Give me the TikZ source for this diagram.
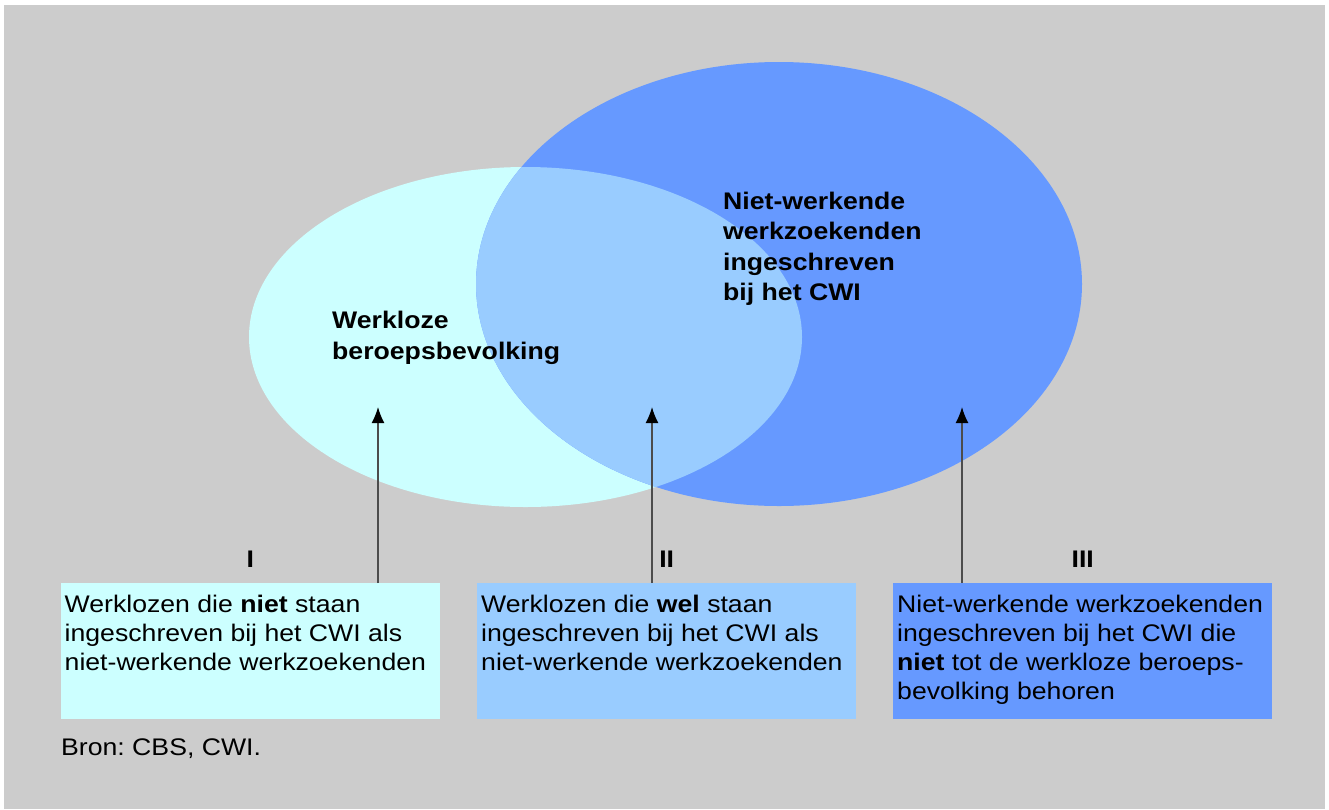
\documentclass[tikz,border=0pt]{standalone}
\usepackage{fontspec}
\setmainfont{Liberation Sans}[FakeStretch=1.11]
\usetikzlibrary{positioning,arrows.meta}
\definecolor{bggray}{HTML}{CCCCCC}
\definecolor{cyanfill}{HTML}{CCFFFF}
\definecolor{lightfill}{HTML}{99CCFF}
\definecolor{bluefill}{HTML}{6699FF}
\frenchspacing

\begin{document}
\begin{tikzpicture}[x=1pt,y=-1pt,
  box/.style={anchor=north west, inner sep=0pt, minimum width=379pt, minimum height=136pt},
  boxtext/.style={anchor=north west, inner sep=0pt, align=left, font=\fontsize{24}{29}\selectfont},
  settext/.style={anchor=north west, inner sep=0pt, align=left, font=\fontsize{24}{30.5}\selectfont\bfseries},
  numlabel/.style={inner sep=0pt, font=\fontsize{24}{29}\selectfont\bfseries},
  pointer/.style={-{Latex[length=16pt,width=13pt,black]}, line width=1.5pt, black!70}]
\useasboundingbox (0,0) rectangle (1329,809);
\fill[white] (0,0) rectangle (1329,809);
\fill[bggray] (4,5) rectangle (1325,809);

% the two sets and their overlap
\fill[cyanfill] (525.5,337) ellipse [x radius=276.5pt, y radius=170pt];
\fill[bluefill] (779,284) ellipse [x radius=303pt, y radius=222pt];
\begin{scope}
\clip (525.5,337) ellipse [x radius=276.5pt, y radius=170pt];
\fill[lightfill] (779,284) ellipse [x radius=303pt, y radius=222pt];
\end{scope}

\node[settext] (wbb) at (332,311) {Werkloze\\ beroepsbevolking};
\node[settext] (nww) at (723,191.5) {Niet-werkende\\ werkzoekenden\\ ingeschreven\\ bij het CWI};

% the three boxes
\foreach \i/\x/\c in {1/60.5/cyanfill, 2/477/lightfill, 3/893/bluefill} {
    \node[box, fill=\c] (box\i) at (\x,583) {};
}
\foreach \i/\r in {1/I, 2/II, 3/III} {
    \node[numlabel, above=15.5pt of box\i] (num\i) {\r};
}

\node[boxtext] (txt1) at ([xshift=4pt,yshift=-12pt]box1.north west) {Werklozen die \textbf{niet} staan\\ ingeschreven bij het CWI als\\ niet-werkende werkzoekenden};
\node[boxtext] (txt2) at ([xshift=4pt,yshift=-12pt]box2.north west) {Werklozen die \textbf{wel} staan\\ ingeschreven bij het CWI als\\ niet-werkende werkzoekenden};
\node[boxtext] (txt3) at ([xshift=4pt,yshift=-12pt]box3.north west) {Niet-werkende werkzoekenden\\ ingeschreven bij het CWI die\\ \textbf{niet} tot de werkloze beroeps-\\ bevolking behoren};

% arrows up into the regions
\foreach \i/\x in {1/378, 2/652, 3/962} {
    \coordinate (tip\i) at (\x,407);
    \draw[pointer] (box\i.north -| tip\i) -- (tip\i);
}

\node[boxtext] (bron) at (61,738.5) {Bron: CBS, CWI.};
\end{tikzpicture}
\end{document}
